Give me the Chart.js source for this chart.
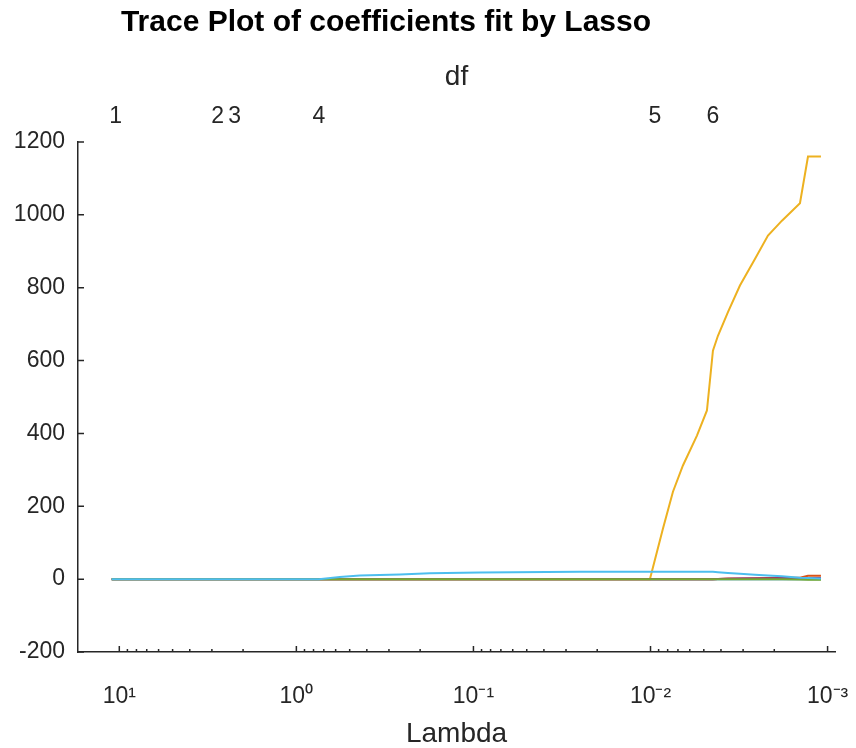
<!DOCTYPE html>
<html>
<head>
<meta charset="utf-8">
<script src="https://cdn.jsdelivr.net/npm/chart.js@4.4.1/dist/chart.umd.min.js"></script>
<style>
  html, body { margin: 0; padding: 0; background: #fff; }
  #wrap { width: 856px; height: 748px; }
</style>
</head>
<body>
<div id="wrap"><canvas id="traceChart" width="856" height="748"></canvas></div>
<script>
// Lambda values where the coefficient traces are sampled
const lambdas = [11.04, 0.747, 0.5685, 0.4383, 0.2604, 0.1763, 0.0920, 0.02506, 0.01008,
    0.00851, 0.007469, 0.00656, 0.005467, 0.004801, 0.004441, 0.004161, 0.003653,
    0.003126, 0.002572, 0.002171, 0.00181, 0.001432, 0.00129, 0.00109];

// Coefficient traces (one per predictor, MATLAB default colour order)
const coefBlue   = [0, 0, 0, 0, 0, 0, 0, 0, 0, 0, 0, 0, 0, 0, 0, 0, 0, 0, 0, 0, 0, 0, 0, 0];
const coefOrange = [0, 0, 0, 0, 0, 0, 0, 0, 0, 0, 0, 0, 0, 0, 0, 0.5, 1.5, 2, 2.5, 3, 3.5, 4, 9, 9];
const coefYellow = [0, 0, 0, 0, 0, 0, 0, 0, 0, 138, 240, 312, 394, 463, 627, 668, 733, 806, 879, 943, 984, 1032, 1160, 1160];
const coefPurple = [0, 0, 0, 0, 0, 0, 0, 0, 0, 0, 0, 0, 0, 0, 0, 0.5, 1, 1.5, 2, 2, 2.5, 3, 3, 3];
const coefGreen  = [0, 0, 0, 0, 0, 0, 0, 0, 0, 0, 0, 0, 0, 0, 0, 0, 0, 0, 0, 0, 0, -1, -2, -2];
const coefCyan   = [0, 0, 6, 10, 13, 16, 18, 20, 20, 20, 20, 20, 20, 20, 20, 19, 17, 15, 12, 10, 8, 4, 3, 2];

// Degrees of freedom shown on the top axis
const dfLambdas = [10.48, 2.78, 2.229, 0.7471, 0.009443, 0.004441];
const dfLabels = ['1', '2', '3', '4', '5', '6'];

// Axis ranges and ticks
const lambdaMin = 0.000908;
const lambdaMax = 17.11;
const lambdaTicks = [10, 1, 0.1, 0.01, 0.001];
const yTicks = [-200, 0, 200, 400, 600, 800, 1000, 1200];

const seriesValues = [coefBlue, coefOrange, coefYellow, coefPurple, coefGreen, coefCyan];
const seriesColors = ['#0072BD', '#D95319', '#EDB120', '#7E2F8E', '#77AC30', '#4DBEEE'];

const axisColor = '#262626';
const fontFamily = "'Liberation Sans', Arial, Helvetica, sans-serif";
const supers = { '-': '\u207B', '0': '\u2070', '1': '\u00B9', '2': '\u00B2', '3': '\u00B3' };

function powerLabel(v) {
    const exp = String(Math.round(Math.log10(v)));
    return '10' + exp.split('').map(c => supers[c]).join('');
}

// Title drawn left of centre, as in the MATLAB figure
const titlePlugin = {
    id: 'traceTitle',
    afterDraw(chart) {
        const ctx = chart.ctx;
        ctx.save();
        ctx.font = 'bold 30px ' + fontFamily;
        ctx.fillStyle = '#000';
        ctx.textAlign = 'center';
        ctx.textBaseline = 'middle';
        ctx.fillText('Trace Plot of coefficients fit by Lasso', 386, 23);
        ctx.restore();
    }
};

// MATLAB-style inward tick marks
const inwardTicks = {
    id: 'inwardTicks',
    afterDatasetsDraw(chart) {
        const ctx = chart.ctx;
        const area = chart.chartArea;
        const xs = chart.scales.x;
        const ys = chart.scales.y;
        ctx.save();
        ctx.strokeStyle = axisColor;
        ctx.lineWidth = 1.5;
        ctx.beginPath();
        lambdaTicks.forEach(v => {
            const px = xs.getPixelForValue(v);
            ctx.moveTo(px, area.bottom);
            ctx.lineTo(px, area.bottom - 6);
            for (let m = 2; m <= 9; m++) {
                const mv = v * m;
                if (mv > lambdaMax) continue;
                const mpx = xs.getPixelForValue(mv);
                ctx.moveTo(mpx, area.bottom);
                ctx.lineTo(mpx, area.bottom - 3);
            }
        });
        yTicks.forEach(v => {
            const py = ys.getPixelForValue(v);
            ctx.moveTo(area.left, py);
            ctx.lineTo(area.left + 6, py);
        });
        ctx.stroke();
        ctx.restore();
    }
};

const datasets = seriesValues.map((vals, i) => ({
    data: vals.map((v, j) => ({ x: lambdas[j], y: v })),
    borderColor: seriesColors[i],
    borderWidth: 2,
    pointRadius: 0,
    fill: false,
    order: seriesValues.length - i
}));

const ctx = document.getElementById('traceChart').getContext('2d');
new Chart(ctx, {
    type: 'line',
    data: { datasets },
    plugins: [titlePlugin, inwardTicks],
    options: {
        responsive: false,
        animation: false,
        layout: { padding: { left: 0, right: 21, top: 0, bottom: 0 } },
        plugins: {
            legend: { display: false },
            tooltip: { enabled: false },
            title: { display: false }
        },
        scales: {
            x: {
                type: 'logarithmic',
                position: 'bottom',
                reverse: true,
                min: lambdaMin,
                max: lambdaMax,
                grid: { display: true, drawOnChartArea: false, drawTicks: false },
                border: { display: true, color: axisColor, width: 1.5 },
                afterBuildTicks: s => { s.ticks = lambdaTicks.map(v => ({ value: v })); },
                ticks: {
                    autoSkip: false,
                    maxRotation: 0,
                    padding: 31,
                    color: axisColor,
                    font: { family: fontFamily, size: 23 },
                    callback: v => powerLabel(v)
                },
                title: {
                    display: true,
                    text: 'Lambda',
                    color: axisColor,
                    font: { family: fontFamily, size: 28, lineHeight: 1 },
                    padding: { top: 0, bottom: 0 }
                },
                afterFit: s => { s.height = 96; s.paddingLeft = 0; s.paddingRight = 0; }
            },
            df: {
                type: 'logarithmic',
                position: 'top',
                reverse: true,
                min: lambdaMin,
                max: lambdaMax,
                grid: { display: false, drawTicks: false },
                border: { display: false },
                afterBuildTicks: s => { s.ticks = dfLambdas.map(v => ({ value: v })); },
                ticks: {
                    autoSkip: false,
                    maxRotation: 0,
                    padding: 12,
                    color: axisColor,
                    font: { family: fontFamily, size: 23 },
                    callback: (v, i) => dfLabels[i]
                },
                title: {
                    display: true,
                    text: 'df',
                    color: axisColor,
                    font: { family: fontFamily, size: 28 },
                    padding: { top: 60, bottom: 0 }
                },
                afterFit: s => { s.height = 142; s.paddingLeft = 0; s.paddingRight = 0; }
            },
            y: {
                type: 'linear',
                min: -200,
                max: 1200,
                grid: { display: true, drawOnChartArea: false, drawTicks: false },
                border: { display: true, color: axisColor, width: 1.5 },
                afterBuildTicks: s => { s.ticks = yTicks.map(v => ({ value: v })); },
                ticks: {
                    padding: 13,
                    color: axisColor,
                    font: { family: fontFamily, size: 23 },
                    callback: v => String(v)
                },
                afterFit: s => { s.width = 78; }
            }
        }
    }
});
</script>
</body>
</html>
